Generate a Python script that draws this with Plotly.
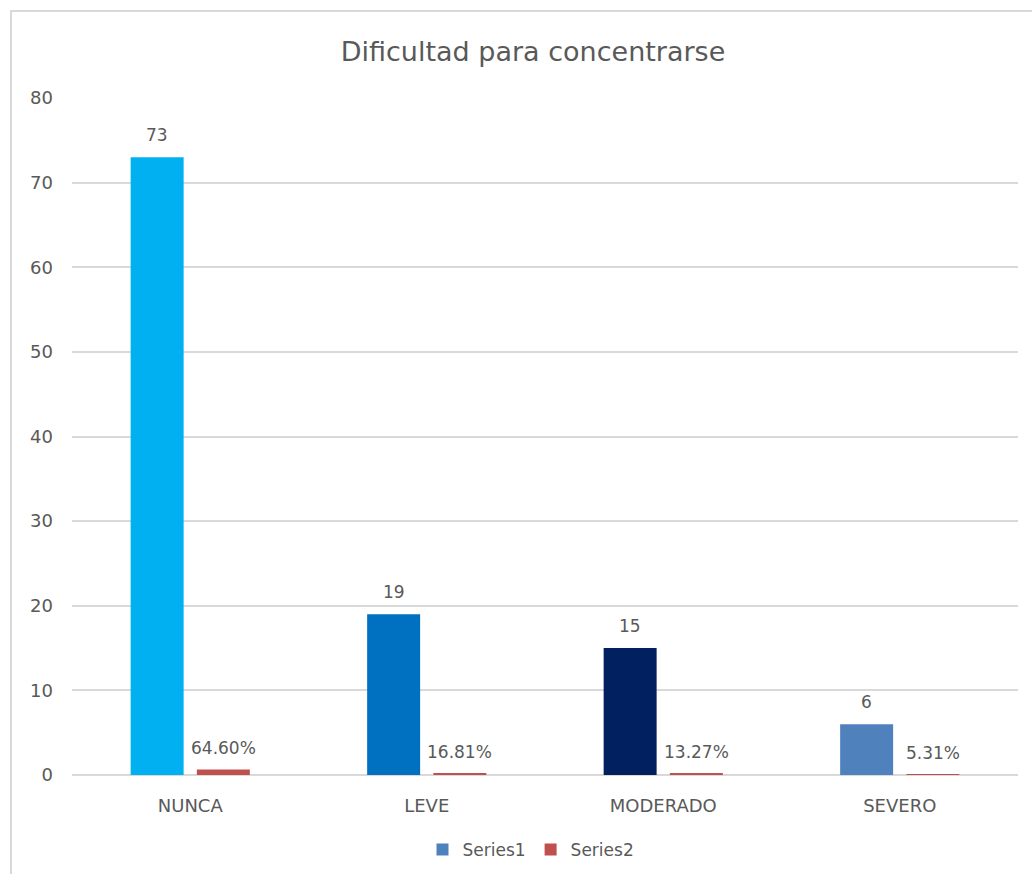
import plotly.graph_objects as go

categories = ["NUNCA", "LEVE", "MODERADO", "SEVERO"]
series1 = [73, 19, 15, 6]
series2 = [0.646, 0.1681, 0.1327, 0.0531]
series1_colors = ["#00B0F0", "#0070C0", "#002060", "#4F81BD"]
series2_color = "#C0504D"
y_ticks = [0, 10, 20, 30, 40, 50, 60, 70, 80]

FONT = "DejaVu Sans, sans-serif"
TXT = "#595959"

# plot area geometry (pixels)
L, R, T, B = 72, 14, 98, 99
W, H = 1032, 874
PW, PH = W - L - R, H - T - B
BARGAP, GROUPGAP = 0.44, 0.2
slot_shift = PW / len(categories) * (1 - BARGAP) / 4  # half a bar slot

fig = go.Figure()

fig.add_trace(go.Bar(
    x=categories, y=series1, name="Series1",
    marker=dict(color=series1_colors, line=dict(width=0)),
    showlegend=False,
))
fig.add_trace(go.Bar(
    x=categories, y=series2, name="Series2",
    marker=dict(color=series2_color, line=dict(width=0)),
    showlegend=False,
))

# legend entries in the series' default colours
fig.add_trace(go.Scatter(x=[None], y=[None], mode="markers", name="Series1",
                         marker=dict(symbol="square", size=12, color="#4F81BD")))
fig.add_trace(go.Scatter(x=[None], y=[None], mode="markers", name="Series2",
                         marker=dict(symbol="square", size=12, color=series2_color)))

annotations = []
for cat, v in zip(categories, series1):
    annotations.append(dict(x=cat, y=v, text=str(v), showarrow=False,
                            xshift=-slot_shift, yshift=22, yanchor="middle",
                            font=dict(family=FONT, size=17, color=TXT)))
for cat, v in zip(categories, series2):
    annotations.append(dict(x=cat, y=v, text=f"{v*100:.2f}%", showarrow=False,
                            xshift=slot_shift, yshift=22, yanchor="middle",
                            font=dict(family=FONT, size=17, color=TXT)))

fig.update_layout(
    width=W, height=H,
    margin=dict(l=L, r=R, t=T, b=B, autoexpand=False),
    paper_bgcolor="white", plot_bgcolor="white",
    barmode="group", bargap=BARGAP, bargroupgap=GROUPGAP,
    title=dict(text="Dificultad para concentrarse",
               x=533 / W, xanchor="center", xref="container",
               y=1 - 52 / H, yanchor="middle", yref="container",
               font=dict(family=FONT, size=27, color=TXT)),
    font=dict(family=FONT, color=TXT),
    legend=dict(orientation="h", x=531 / W, xanchor="center", xref="container",
                y=1 - 850 / H, yanchor="middle", yref="container",
                font=dict(family=FONT, size=17, color=TXT),
                itemwidth=30, traceorder="normal"),
    annotations=annotations,
    shapes=[dict(type="rect", xref="paper", yref="paper",
                 x0=-61 / PW, x1=1.2, y0=-0.3, y1=1 + 87 / PH,
                 line=dict(color="#D9D9D9", width=2), layer="below")],
)

fig.update_xaxes(
    showgrid=False, showline=False, ticks="", automargin=False,
    tickfont=dict(family=FONT, size=18, color=TXT),
    ticklabelstandoff=18,
)
fig.update_yaxes(
    range=[0, 80], tickvals=y_ticks, showgrid=True, automargin=False,
    gridcolor="#D9D9D9", gridwidth=1.5,
    zeroline=True, zerolinecolor="#D9D9D9", zerolinewidth=1.5,
    showline=False, ticks="",
    tickfont=dict(family=FONT, size=18, color=TXT),
    ticklabelstandoff=18,
)

fig.write_html("out.html")
